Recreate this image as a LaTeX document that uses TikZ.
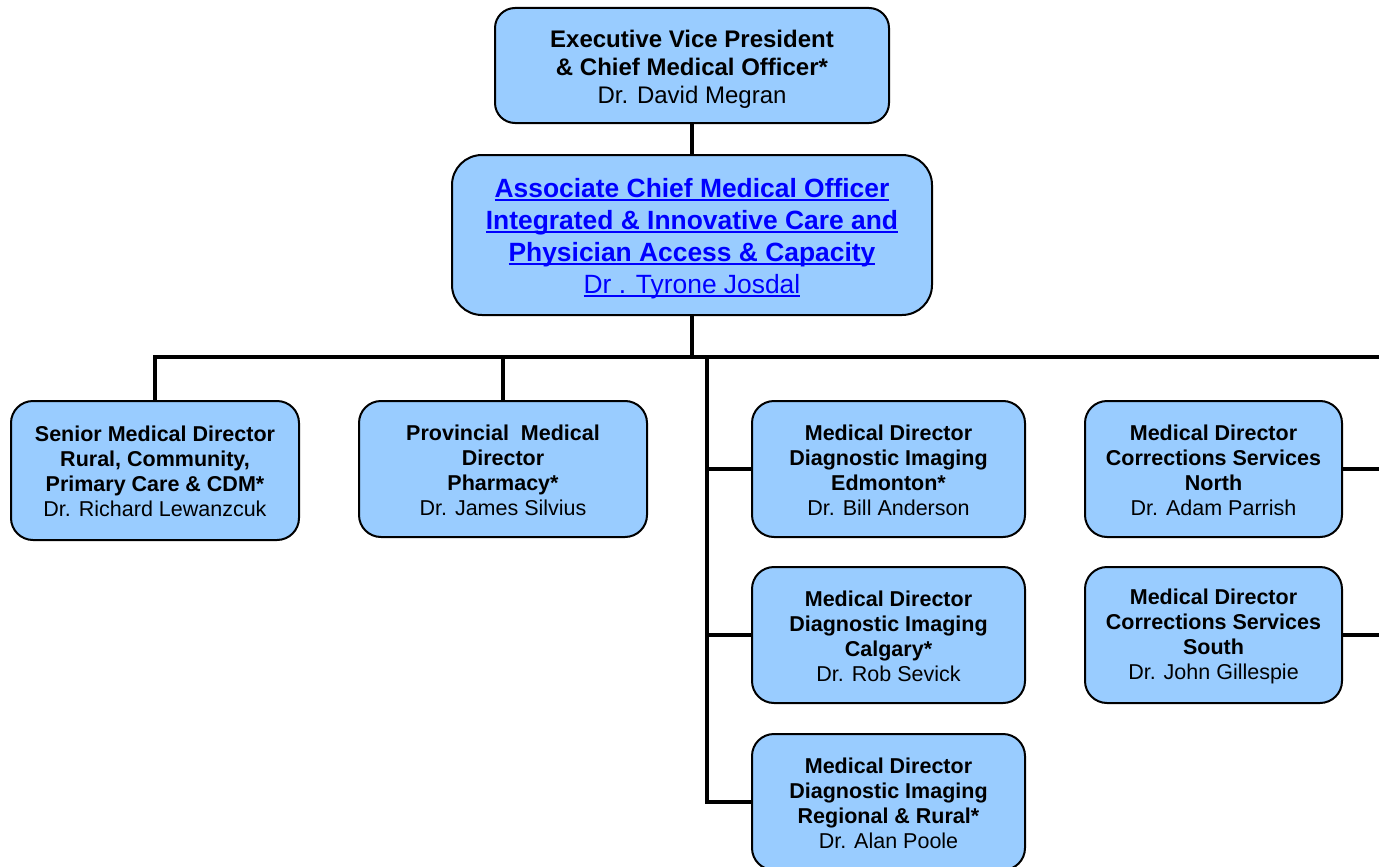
\documentclass[tikz,border=0pt]{standalone}
\usepackage{fontspec}
\setmainfont{Liberation Sans}
\definecolor{boxfill}{RGB}{153,204,255}
\definecolor{linkblue}{RGB}{0,0,255}
\newcommand\linkul[1]{\setbox0\hbox{#1}\rlap{\rule[-3.5pt]{\wd0}{2pt}}\box0}
\begin{document}
\begin{tikzpicture}[x=1pt,y=-1pt,
  box/.style={draw=black, line width=2pt, fill=boxfill, rounded corners=22pt,
    align=center, inner sep=0pt, text=black},
  topbox/.style={box, minimum width=394pt, minimum height=115pt, rounded corners=20pt,
    font=\fontsize{24}{28}\selectfont},
  midbox/.style={box, minimum width=480pt, minimum height=160pt, rounded corners=30pt,
    font=\fontsize{26.4}{32}\selectfont, text=linkblue},
  leafwide/.style={box, minimum width=288pt, minimum height=136pt,
    font=\fontsize{21.5}{25}\selectfont},
  leafdi/.style={box, minimum width=273pt, minimum height=136pt,
    font=\fontsize{21.5}{25}\selectfont},
  leafcs/.style={box, minimum width=257pt, minimum height=136pt,
    font=\fontsize{21.5}{25}\selectfont},
  conn/.style={line width=4pt, draw=black}]
\useasboundingbox (0,0) rectangle (1379,867);

% boxes
\node[topbox] (evp) at (692,65.5) {\rule{0pt}{25.5pt}\textbf{Executive Vice President}\\ \textbf{\& Chief Medical Officer*}\\ Dr. David Megran};
\node[midbox] (aco) at (692,235) {\rule{0pt}{26.5pt}\linkul{\textbf{Associate Chief Medical Officer}}\\ \linkul{\textbf{Integrated \& Innovative Care and}}\\ \linkul{\textbf{Physician Access \& Capacity}}\\ \linkul{Dr . Tyrone Josdal}};
\node[leafwide, minimum height=139pt] (srmd) at (155,470.5) {\rule{0pt}{17.5pt}\textbf{Senior Medical Director}\\ \textbf{Rural, Community,}\\ \textbf{Primary Care \& CDM*}\\ Dr. Richard Lewanzcuk};
\node[leafwide] (pmd) at (503,469) {\rule{0pt}{17.5pt}\textbf{Provincial\ \ Medical}\\ \textbf{Director}\\ \textbf{Pharmacy*}\\ Dr. James Silvius};
\node[leafdi] (di1) at (888.5,469) {\rule{0pt}{17.5pt}\textbf{Medical Director}\\ \textbf{Diagnostic Imaging}\\ \textbf{Edmonton*}\\ Dr. Bill Anderson};
\node[leafdi] (di2) at (888.5,635) {\rule{0pt}{17.5pt}\textbf{Medical Director}\\ \textbf{Diagnostic Imaging}\\ \textbf{Calgary*}\\ Dr. Rob Sevick};
\node[leafdi] (di3) at (888.5,802) {\rule{0pt}{17.5pt}\textbf{Medical Director}\\ \textbf{Diagnostic Imaging}\\ \textbf{Regional \& Rural*}\\ Dr. Alan Poole};
\node[leafcs] (cn) at (1213.5,469) {\rule{0pt}{17.5pt}\textbf{Medical Director}\\ \textbf{Corrections Services}\\ \textbf{North}\\ Dr. Adam Parrish};
\node[leafcs] (cs) at (1213.5,635) {\rule{0pt}{17.5pt}\textbf{Medical Director}\\ \textbf{Corrections Services}\\ \textbf{South}\\ Dr. John Gillespie};

% connectors
\coordinate (busR) at (1386,357);
\coordinate (trunkT) at (707,357);
\draw[conn] (evp.south) -- (aco.north);
\draw[conn] (aco.south) -- (aco.south |- busR);
\draw[conn] (srmd.north) |- (busR);
\draw[conn] (pmd.north) -- (pmd.north |- busR);
\draw[conn] (trunkT) |- (di3.west);
\draw[conn] (trunkT |- di1.west) -- (di1.west);
\draw[conn] (trunkT |- di2.west) -- (di2.west);
\draw[conn] (cn.east) -- (cn.east -| busR);
\draw[conn] (cs.east) -- (cs.east -| busR);
\end{tikzpicture}
\end{document}
